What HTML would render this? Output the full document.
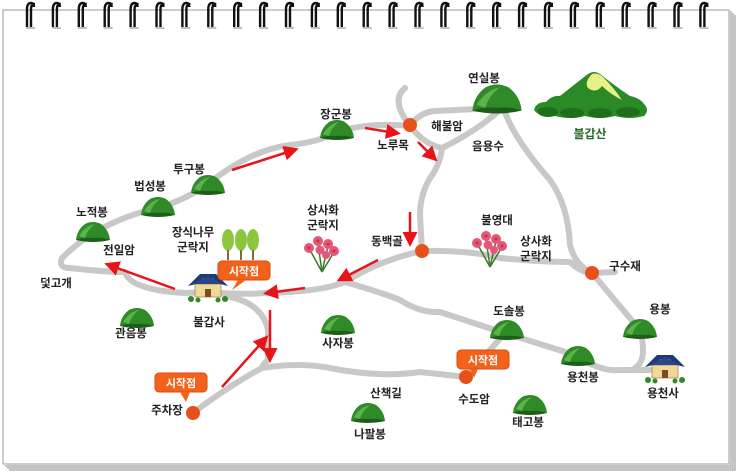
<!DOCTYPE html>
<html><head><meta charset="utf-8"><style>
html,body{margin:0;padding:0;background:#fff;}
svg{display:block;}
text{font-family:"Liberation Sans","Noto Sans CJK KR",sans-serif;font-size:11.5px;font-weight:bold;fill:#222;text-anchor:middle;}
</style></head><body>
<svg width="740" height="476" viewBox="0 0 740 476" xmlns="http://www.w3.org/2000/svg">
<defs>
<marker id="ah" markerWidth="6" markerHeight="6" refX="4" refY="3" orient="auto" markerUnits="strokeWidth"><path d="M0,0 L6,3 L0,6 z" fill="#e8141a"/></marker>
<g id="mt"><path d="M-17,8 Q-16,-2 -8,-8 Q0,-12 8,-8 Q16,-2 17,8 Z" fill="#2f8a28"/><path d="M-14,4 Q-8,-6 2,-8 Q-6,-2 -8,6 Z" fill="#5cb34a"/><path d="M-17,8 Q0,12 17,8 Q10,5 0,6 Q-10,5 -17,8Z" fill="#1d5e1a"/></g>
<g id="node"><circle r="7" fill="#e8501a"/></g>
<g id="sign"><rect x="0" y="0" width="52" height="19" rx="4" fill="#f2621a" stroke="#d94a10"/><text x="26" y="14" style="fill:#fff;font-size:11px">시작점</text></g>
<g id="temple"><rect x="-13" y="-4" width="26" height="13" fill="#f0d79a" stroke="#8a6a30" stroke-width="0.6"/><path d="M-20,-2 L-8,-14 L8,-14 L20,-2 L12,-4 L4,-10 L-4,-10 L-12,-4Z" fill="#1e3a78"/><path d="M-14,-4 L0,-12 L14,-4Z" fill="#27468a"/><rect x="-3" y="1" width="6" height="8" fill="#7a5020"/><circle cx="-17" cy="11" r="3" fill="#2f8a28"/><circle cx="17" cy="11" r="3" fill="#2f8a28"/><circle cx="-10" cy="12" r="2.5" fill="#2f8a28"/><circle cx="10" cy="12" r="2.5" fill="#2f8a28"/></g>
<g id="flower"><g stroke="#3a7a2a" stroke-width="1.5"><line x1="0" y1="22" x2="-12" y2="0"/><line x1="0" y1="22" x2="-4" y2="-6"/><line x1="0" y1="22" x2="6" y2="-4"/><line x1="0" y1="22" x2="12" y2="2"/></g><g fill="#e5577a"><circle cx="-13" cy="-2" r="5"/><circle cx="-4" cy="-9" r="5"/><circle cx="6" cy="-6" r="5"/><circle cx="12" cy="1" r="5"/><circle cx="-2" cy="0" r="4.5"/><circle cx="4" cy="5" r="4"/></g><g fill="#c0392b"><circle cx="-13" cy="-2" r="1.5"/><circle cx="-4" cy="-9" r="1.5"/><circle cx="6" cy="-6" r="1.5"/><circle cx="12" cy="1" r="1.5"/></g></g>
</defs>
<g fill="none" stroke="#888" stroke-width="1">
<path d="M735,15 V470 H9"/><path d="M733,13 V468 H7"/><path d="M731,11 V466 H5"/>
<rect x="3" y="10" width="726" height="454" fill="#fff" stroke="#999"/>
</g>
<g id="rings"></g>
<g fill="none" stroke="#c8c8c8" stroke-width="6" stroke-linecap="round" stroke-linejoin="round">
<path d="M93,233 Q125,215 158,208 Q185,200 208,184 Q250,150 290,145 Q320,142 336,132 Q370,122 410,126"/>
<path d="M405,88 Q390,100 410,126 Q425,145 442,148 Q475,132 500,110"/>
<path d="M410,126 Q420,112 435,111 L497,108"/>
<path d="M442,148 Q440,165 430,178 Q420,195 420,215 L422,251"/>
<path d="M505,112 Q515,140 550,180 Q568,205 570,245 Q575,265 592,273 L615,272"/>
<path d="M592,273 L640,330 Q648,360 635,368"/>
<path d="M210,292 Q240,295 265,293 Q320,292 345,282 Q380,260 422,251 Q470,250 500,258 Q540,262 570,262 Q580,272 592,273"/>
<path d="M345,282 Q380,292 400,300 Q420,313 440,312 L495,330 L575,355 Q600,372 620,370 L650,370"/>
<path d="M505,333 L466,377"/>
<path d="M225,296 Q262,302 268,330 L268,360 Q262,365 262,368 Q300,362 330,368 Q380,378 420,372 L466,377"/>
<path d="M262,368 Q230,385 193,413"/>
<path d="M93,233 Q75,245 62,258 Q58,268 70,268 Q105,272 125,272 Q130,290 185,293 L210,292"/>
</g>
<use href="#node" x="410" y="125"/><use href="#node" x="422" y="251"/><use href="#node" x="592" y="273"/><use href="#node" x="466" y="377"/><use href="#node" x="193" y="413"/>
<use href="#mt" x="93" y="232"/><use href="#mt" x="158" y="207"/><use href="#mt" x="208" y="185"/><use href="#mt" x="337" y="130"/>
<use href="#mt" x="137" y="318"/><use href="#mt" x="338" y="325"/><use href="#mt" x="507" y="330"/><use href="#mt" x="578" y="356"/><use href="#mt" x="640" y="329"/><use href="#mt" x="530" y="405"/><use href="#mt" x="368" y="413"/>
<g transform="translate(497,99) scale(1.45)"><use href="#mt"/></g>
<!-- 불갑산 -->
<path d="M534,110 Q536,102 546,102 Q552,95 560,96 Q575,84 588,74 Q594,70 600,74 Q615,86 630,96 Q640,98 644,104 Q650,110 644,116 Q630,120 615,116 Q600,120 585,116 Q570,120 555,116 Q540,118 534,110 Z" fill="#2a8a26"/>
<path d="M592,74 Q598,72 604,78 Q614,88 622,100 Q610,94 602,86 Q596,94 588,88 Q584,82 592,74Z" fill="#e8f08a"/>
<g fill="#1f6e1c"><ellipse cx="548" cy="112" rx="10" ry="5"/><ellipse cx="572" cy="113" rx="12" ry="5"/><ellipse cx="600" cy="113" rx="12" ry="5"/><ellipse cx="628" cy="112" rx="12" ry="5"/></g>
<text x="590" y="138" style="fill:#2a6a2a;font-size:12px">불갑산</text>
<g fill="#8cc63f"><ellipse cx="228" cy="240" rx="6" ry="11"/><ellipse cx="241" cy="240" rx="6" ry="11"/><ellipse cx="253" cy="240" rx="6" ry="11"/></g>
<g stroke="#8a6a30" stroke-width="2"><line x1="228" y1="250" x2="228" y2="260"/><line x1="241" y1="250" x2="241" y2="260"/><line x1="253" y1="250" x2="253" y2="260"/></g>
<use href="#flower" x="322" y="250"/><use href="#flower" x="490" y="245"/>
<use href="#temple" x="208" y="288"/><use href="#temple" x="665" y="369"/>
<use href="#sign" x="218" y="261"/><path d="M238,280 L232,290 L246,280Z" fill="#f2621a"/>
<use href="#sign" x="155" y="373"/><path d="M180,392 L186,402 L190,392Z" fill="#f2621a"/>
<use href="#sign" x="457" y="350"/><path d="M470,369 L474,378 L478,369Z" fill="#f2621a"/>
<g stroke="#e8141a" stroke-width="2.5" fill="none" marker-end="url(#ah)">
<line x1="232" y1="170" x2="294" y2="150"/>
<line x1="365" y1="128" x2="396" y2="133"/>
<line x1="418" y1="142" x2="434" y2="158"/>
<line x1="410" y1="212" x2="410" y2="242"/>
<line x1="378" y1="260" x2="341" y2="279"/>
<line x1="305" y1="288" x2="268" y2="293"/>
<line x1="175" y1="289" x2="109" y2="265"/>
<line x1="270" y1="310" x2="270" y2="358"/>
<line x1="222" y1="387" x2="265" y2="339"/>
</g>
<text x="484" y="82">연실봉</text><text x="447" y="130">해불암</text><text x="393" y="149">노루목</text><text x="488" y="150">음용수</text>
<text x="336" y="118">장군봉</text><text x="189" y="173">투구봉</text><text x="150" y="190">법성봉</text><text x="92" y="216">노적봉</text>
<text x="193" y="236">장식나무</text><text x="193" y="251">군락지</text>
<text x="323" y="214">상사화</text><text x="323" y="229">군락지</text>
<text x="387" y="245">동백골</text><text x="497" y="224">불영대</text>
<text x="536" y="245">상사화</text><text x="536" y="260">군락지</text>
<text x="625" y="270">구수재</text><text x="119" y="254">전일암</text><text x="56" y="287">덫고개</text>
<text x="209" y="326">불갑사</text><text x="131" y="337">관음봉</text><text x="338" y="347">사자봉</text>
<text x="509" y="315">도솔봉</text><text x="660" y="313">용봉</text><text x="583" y="381">용천봉</text><text x="663" y="397">용천사</text>
<text x="386" y="397">산책길</text><text x="474" y="403">수도암</text><text x="528" y="426">태고봉</text><text x="370" y="438">나팔봉</text>
<text x="167" y="414">주차장</text>
</svg>
<script>
(function(){var g=document.getElementById('rings');var s='';for(var i=0;i<27;i++){var x=30+i*25.9;s+='<g transform="translate('+x.toFixed(1)+',0)"><path d="M-3,27 V9 Q-3,3 1,3 Q4,3 4,7 M1,27 V9 Q1,4 5,4" stroke="#111" stroke-width="2.4" fill="none"/><path d="M-4,28 h9" stroke="#aaa" stroke-width="1.5"/></g>';}g.innerHTML=s;})();
</script>
</body></html>
